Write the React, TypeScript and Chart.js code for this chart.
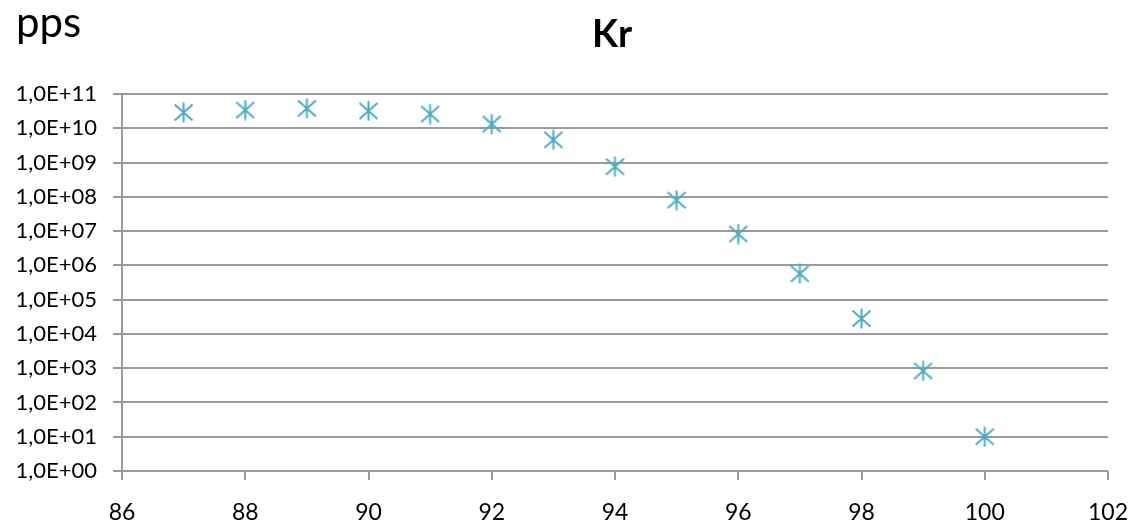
import React, { useEffect, useRef } from "react";
import { Chart, registerables } from "chart.js";

Chart.register(...registerables);

const energies = [87, 88, 89, 90, 91, 92, 93, 94, 95, 96, 97, 98, 99, 100];
const ppsValues = [2.9e10, 3.4e10, 3.8e10, 3.2e10, 2.6e10, 1.33e10, 4.6e9, 7.6e8, 8.0e7, 8.2e6, 5.7e5, 2.8e4, 830, 10];
const xTickValues = [86, 88, 90, 92, 94, 96, 98, 100, 102];
const yTickValues = [1, 1e1, 1e2, 1e3, 1e4, 1e5, 1e6, 1e7, 1e8, 1e9, 1e10, 1e11];
const yTickLabels = [
  "1,0E+00", "1,0E+01", "1,0E+02", "1,0E+03", "1,0E+04", "1,0E+05",
  "1,0E+06", "1,0E+07", "1,0E+08", "1,0E+09", "1,0E+10", "1,0E+11",
];
const titleText = "Kr";
const unitText = "pps";

const MARKER_COLOR = "#4BACC6";
const GRID_COLOR = "#9a9a9a";
const FONT = "Lato, 'DejaVu Sans', sans-serif";

function makeStar(): HTMLCanvasElement {
  const s = 21;
  const c = document.createElement("canvas");
  c.width = s;
  c.height = s;
  const ctx = c.getContext("2d")!;
  ctx.strokeStyle = MARKER_COLOR;
  ctx.lineWidth = 2;
  ctx.beginPath();
  ctx.moveTo(s / 2, 0.5);
  ctx.lineTo(s / 2, s - 0.5);
  ctx.moveTo(1.5, 2.5);
  ctx.lineTo(s - 1.5, s - 2.5);
  ctx.moveTo(s - 1.5, 2.5);
  ctx.lineTo(1.5, s - 2.5);
  ctx.stroke();
  return c;
}

const textPlugin = {
  id: "textPlugin",
  afterDraw(chart: any) {
    const ctx = chart.ctx;
    ctx.save();
    ctx.fillStyle = "#000";
    ctx.textBaseline = "alphabetic";
    ctx.textAlign = "left";
    ctx.font = `42px ${FONT}`;
    ctx.fillText(unitText, 16, 37);
    ctx.textAlign = "center";
    ctx.font = `bold 38px ${FONT}`;
    ctx.fillText(titleText, 612, 47);
    ctx.restore();
  },
};

const bgPlugin = {
  id: "bgPlugin",
  beforeDraw(chart: any) {
    const ctx = chart.ctx;
    ctx.save();
    ctx.fillStyle = "#fff";
    ctx.fillRect(0, 0, chart.width, chart.height);
    ctx.restore();
  },
};

export default function App() {
  const ref = useRef<HTMLCanvasElement>(null);
  useEffect(() => {
    if (!ref.current) return;
    const star = makeStar();
    const chart = new Chart(ref.current, {
      type: "scatter",
      data: {
        datasets: [
          {
            data: energies.map((e, i) => ({ x: e, y: ppsValues[i] })),
            pointStyle: star as any,
            pointRadius: 10,
            showLine: false,
          },
        ],
      },
      options: {
        animation: false,
        responsive: false,
        layout: { padding: { top: 94, right: 22, left: 0, bottom: 0 } },
        plugins: {
          legend: { display: false },
          title: { display: false },
          tooltip: { enabled: false },
        },
        scales: {
          x: {
            type: "linear",
            min: 86,
            max: 102,
            afterBuildTicks: (scale: any) => {
              scale.ticks = xTickValues.map((v) => ({ value: v }));
            },
            afterFit: (scale: any) => {
              scale.height = 55;
              scale.paddingLeft = 0;
              scale.paddingRight = 0;
            },
            grid: {
              display: true,
              drawOnChartArea: false,
              drawTicks: true,
              tickLength: 9,
              color: GRID_COLOR,
              lineWidth: 2,
            },
            border: { display: false },
            ticks: {
              font: { family: FONT, size: 23 },
              color: "#000",
              padding: 19,
              maxRotation: 0,
              autoSkip: false,
            },
          },
          y: {
            type: "logarithmic",
            min: 1,
            max: 1e11,
            afterBuildTicks: (scale: any) => {
              scale.ticks = yTickValues.map((v) => ({ value: v }));
            },
            afterFit: (scale: any) => {
              scale.width = 122;
              scale.paddingTop = 0;
              scale.paddingBottom = 0;
            },
            grid: {
              display: true,
              drawTicks: true,
              tickLength: 9,
              color: GRID_COLOR,
              lineWidth: 2,
            },
            border: { display: true, color: GRID_COLOR, width: 2 },
            ticks: {
              font: { family: FONT, size: 22 },
              color: "#000",
              padding: 16,
              autoSkip: false,
              callback: (v: any) => {
                const i = yTickValues.indexOf(Number(v));
                return i >= 0 ? yTickLabels[i] : "";
              },
            },
          },
        },
      },
      plugins: [bgPlugin, textPlugin],
    });
    return () => chart.destroy();
  }, []);
  return (
    <div style={{ position: "fixed", left: 0, top: 0, width: 1130, height: 526, background: "#fff" }}>
      <canvas ref={ref} width={1130} height={526} style={{ display: "block" }} />
    </div>
  );
}
